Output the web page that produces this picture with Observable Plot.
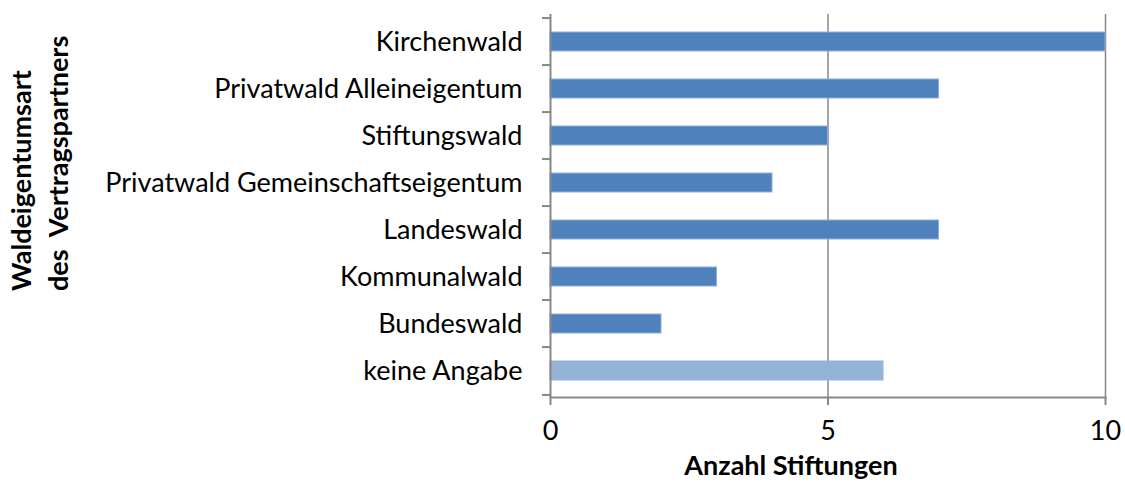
<!DOCTYPE html>
<html>
<head>
<meta charset="utf-8">
<script src="https://cdn.jsdelivr.net/npm/d3@7"></script>
<script src="https://cdn.jsdelivr.net/npm/@observablehq/plot@0.6"></script>
<style>
  html, body { margin: 0; padding: 0; background: #fff; }
  #chart svg { display: block; }
</style>
</head>
<body>
<div id="chart"></div>
<script>
const categories = [
  "Kirchenwald",
  "Privatwald Alleineigentum",
  "Stiftungswald",
  "Privatwald Gemeinschaftseigentum",
  "Landeswald",
  "Kommunalwald",
  "Bundeswald",
  "keine Angabe"
];
const counts = [10, 7, 5, 4, 7, 3, 2, 6];
const xTicks = [0, 5, 10];
const xTitle = "Anzahl Stiftungen";
const yTitleLines = ["Waldeigentumsart", "des  Vertragspartners"];

const data = categories.map((c, i) => ({category: c, count: counts[i]}));
const lastCategory = categories[categories.length - 1];

const W = 1125, H = 482;
const marginLeft = 550, marginRight = 20, marginTop = 14, marginBottom = 85;
const step = (H - marginTop - marginBottom) / categories.length;
const grey = "#878787";
const font = "Lato, 'Open Sans', sans-serif";
const fs = 27;

const chart = Plot.plot({
  width: W,
  height: H,
  marginLeft, marginRight, marginTop, marginBottom,
  style: {fontFamily: font, fontSize: fs + "px", color: "#000", background: "#fff"},
  x: {domain: [0, 10], axis: null},
  y: {domain: categories, paddingInner: 0.6, paddingOuter: 0.3, axis: null},
  marks: [
    Plot.ruleX([5, 10], {stroke: grey, strokeWidth: 1.5}),
    Plot.barX(data, {
      y: "category", x: "count",
      fill: d => d.category === lastCategory ? "#95B3D7" : "#4F81BD",
      stroke: d => d.category === lastCategory ? "#95B3D7" : "#8DAEDA",
      strokeWidth: 1
    }),
    Plot.ruleX([0], {stroke: grey, strokeWidth: 2}),
    Plot.frame({anchor: "bottom", stroke: grey, strokeWidth: 2}),
    // category boundary ticks
    Plot.axisY(categories, {anchor: "left", tickSize: 8, dy: -step / 2, text: null, label: null, stroke: grey, strokeWidth: 2}),
    Plot.axisY([lastCategory], {anchor: "left", tickSize: 8, dy: step / 2, text: null, label: null, stroke: grey, strokeWidth: 2}),
    // category labels
    Plot.axisY({anchor: "left", tickSize: 0, tickPadding: 28, label: null, fontSize: fs, fill: "#000"}),
    // x axis
    Plot.axisX(xTicks, {anchor: "bottom", tickSize: 8, tickPadding: 15, label: null, stroke: grey, strokeWidth: 2, fontSize: fs, fill: "#000"}),
    Plot.text([xTitle], {frameAnchor: "bottom", dx: -37, dy: 69, lineAnchor: "middle", fontWeight: "bold", fontSize: fs, fill: "#000"}),
    Plot.text([yTitleLines[0]], {frameAnchor: "left", dx: -528, dy: 85, rotate: -90, textAnchor: "start", lineAnchor: "middle", fontWeight: "bold", fontSize: fs, fill: "#000"}),
    Plot.text([yTitleLines[1]], {frameAnchor: "left", dx: -491, dy: 85, rotate: -90, textAnchor: "start", lineAnchor: "middle", fontWeight: "bold", fontSize: fs, fill: "#000"})
  ]
});
document.getElementById("chart").appendChild(chart);
</script>
</body>
</html>
